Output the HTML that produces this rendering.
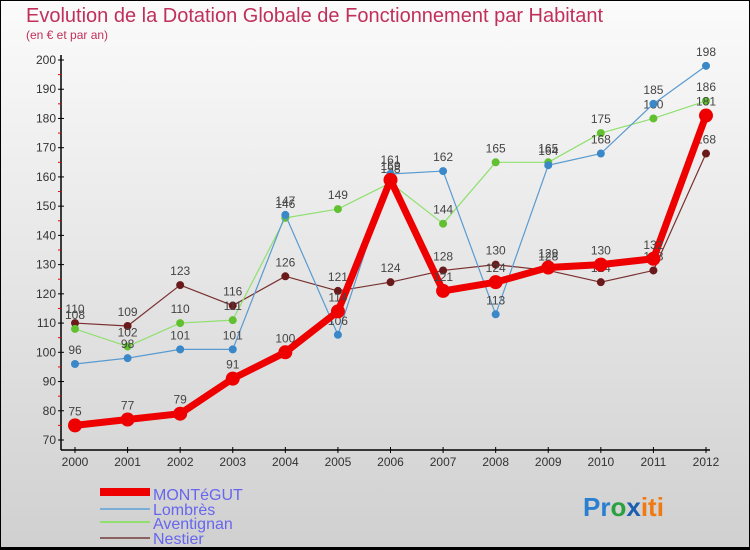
<!DOCTYPE html>
<html><head><meta charset="utf-8"><style>
body{margin:0}
#c{position:relative;width:750px;height:550px;overflow:hidden;font-family:"Liberation Sans",sans-serif}
</style></head><body>
<div id="c">
<svg id="s" width="750" height="550" xmlns="http://www.w3.org/2000/svg">
<defs><linearGradient id="bg" x1="0" y1="0" x2="0" y2="1"><stop offset="0" stop-color="#fbfbfb"/><stop offset="1" stop-color="#d0d0d0"/></linearGradient></defs>
<rect x="0.5" y="0.5" width="749" height="548" fill="url(#bg)" stroke="#000"/>
<rect x="0" y="547" width="750" height="3" fill="#000"/>
<text x="26" y="22" font-size="20" fill="#c0305a">Evolution de la Dotation Globale de Fonctionnement par Habitant</text>
<text x="26" y="39" font-size="12" fill="#c0305a">(en € et par an)</text>
<g id="axes"></g><g id="series"></g>
<g font-size="16">
<rect x="100" y="488" width="50" height="8" fill="#e00"/>
<text x="153" y="500" fill="#6666ee">MONTéGUT</text>
<line x1="100" y1="509" x2="150" y2="509" stroke="#7aaed6" stroke-width="2"/>
<text x="153" y="515" fill="#6666ee">Lombrès</text>
<line x1="100" y1="522" x2="150" y2="522" stroke="#90e070" stroke-width="2"/>
<text x="153" y="529" fill="#6666ee">Aventignan</text>
<line x1="100" y1="538" x2="150" y2="538" stroke="#8a6060" stroke-width="2"/>
<text x="153" y="544" fill="#6666ee">Nestier</text>
</g>
<g font-size="26" font-weight="bold">
<text x="583" y="516"><tspan fill="#2a7fd0">Pr</tspan><tspan fill="#2aa040">o</tspan><tspan fill="#1a5fb0">x</tspan><tspan fill="#f07a10">iti</tspan></text>
</g>
</svg>
</div>
<script>
const years=[2000,2001,2002,2003,2004,2005,2006,2007,2008,2009,2010,2011,2012];
const yTicks=[70,80,90,100,110,120,130,140,150,160,170,180,190,200];
const montegut=[75,77,79,91,100,114,159,121,124,129,130,132,181];
const lombres=[96,98,101,101,147,106,161,162,113,164,168,185,198];
const aventignan=[108,102,110,111,146,149,158,144,165,165,175,180,186];
const nestier=[110,109,123,116,126,121,124,128,130,128,124,128,168];
const NS="http://www.w3.org/2000/svg";
const X=i=>75+i*(706-75)/(years.length-1);
const Y=v=>60+(200-v)*(380/130);
function mk(t,a,p){const e=document.createElementNS(NS,t);for(const k in a)e.setAttribute(k,a[k]);p.appendChild(e);return e;}
const ax=document.getElementById('axes');
mk('line',{x1:61,y1:55,x2:61,y2:450,stroke:'#000','stroke-width':1.5},ax);
mk('line',{x1:61,y1:450,x2:710,y2:450,stroke:'#000','stroke-width':1.5},ax);
yTicks.forEach(v=>{
 mk('line',{x1:58,y1:Y(v),x2:64,y2:Y(v),stroke:'#000'},ax);
 const t=mk('text',{x:56,y:Y(v)+4,'text-anchor':'end','font-size':12,fill:'#333'},ax);t.textContent=v;
 
 
 if(v<200) mk('line',{x1:58,y1:Y(v+5),x2:61,y2:Y(v+5),stroke:'#e00'},ax);
});
years.forEach((y,i)=>{
 mk('line',{x1:X(i),y1:447,x2:X(i),y2:453,stroke:'#000'},ax);
 const t=mk('text',{x:X(i),y:466,'text-anchor':'middle','font-size':12,fill:'#333'},ax);t.textContent=y;
 
 
});
const sg=document.getElementById('series');
function series(name,data,col,dot,w,r){
 const g=mk('g',{},sg);
 
 
 mk('polyline',{points:data.map((v,i)=>X(i)+','+Y(v)).join(' '),fill:'none',stroke:col,'stroke-width':w,'stroke-linejoin':'round'},g);
 data.forEach((v,i)=>{
  const c=mk('circle',{cx:X(i),cy:Y(v),r:r,fill:dot},g);
  
  
  const t=mk('text',{x:X(i),y:Y(v)-10,'text-anchor':'middle','font-size':12,fill:'#444'},g);t.textContent=v;
 });
}
series('nestier',nestier,'#7a3030','#6a1a1a',1.2,4);
series('aventignan',aventignan,'#90e070','#60c030',1.2,4);
series('lombres',lombres,'#5a9ad0','#3a88c8',1.2,4);
series('montegut',montegut,'#ee0000','#ee0000',7,7);
</script>
</body></html>
